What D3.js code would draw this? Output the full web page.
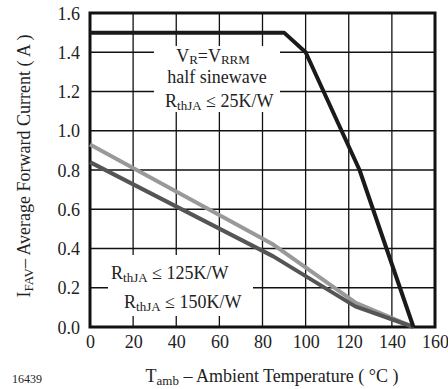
<!DOCTYPE html>
<html>
<head>
<meta charset="utf-8">
<script src="https://cdn.jsdelivr.net/npm/d3@7.9.0/dist/d3.min.js"></script>
<style>
  body { margin: 0; background: #fff; }
  svg text { font-family: "Liberation Serif", "DejaVu Serif", "Times New Roman", Times, serif; fill: #222; }
</style>
</head>
<body>
<svg id="chart" width="448" height="389"></svg>
<script>
// curves
const temp25 = [0, 90, 100, 125, 150];
const amps25 = [1.5, 1.5, 1.4, 0.8, 0];
const temp125 = [0, 85, 123, 150];
const amps125 = [0.93, 0.42, 0.125, 0];
const temp150 = [0, 85, 123, 150];
const amps150 = [0.84, 0.36, 0.105, 0];

const xTicks = [0, 20, 40, 60, 80, 100, 120, 140, 160];
const yTicks = [0.0, 0.2, 0.4, 0.6, 0.8, 1.0, 1.2, 1.4, 1.6];

const svg = d3.select("#chart");
const plotL = 90, plotR = 435, plotT = 13, plotB = 327;
const fs = 18, subFs = 13;

const x = d3.scaleLinear().domain([0, 160]).range([plotL, plotR]);
const y = d3.scaleLinear().domain([0, 1.6]).range([plotB, plotT]);

// grid
const grid = svg.append("g").attr("stroke", "#111").attr("stroke-width", 1.3);
grid.selectAll(".vx").data(xTicks.slice(1, -1)).enter().append("line")
  .attr("x1", d => x(d)).attr("x2", d => x(d))
  .attr("y1", plotT).attr("y2", plotB);
grid.selectAll(".hy").data(yTicks.slice(1, -1)).enter().append("line")
  .attr("x1", plotL).attr("x2", plotR)
  .attr("y1", d => y(d)).attr("y2", d => y(d));

// white label boxes that cut the grid
const boxes = svg.append("g");
boxes.append("rect").attr("x", 154).attr("y", 46).attr("width", 126).attr("height", 66).attr("fill", "#fff");
boxes.append("rect").attr("x", 108).attr("y", 255).attr("width", 145).attr("height", 61).attr("fill", "#fff");

// frame
svg.append("rect").attr("x", plotL).attr("y", plotT)
  .attr("width", plotR - plotL).attr("height", plotB - plotT)
  .attr("fill", "none").attr("stroke", "#111").attr("stroke-width", 3);

const line = d3.line().x(d => x(d[0])).y(d => y(d[1]));
function draw(ts, vs, color) {
  svg.append("path")
    .datum(d3.zip(ts, vs))
    .attr("d", line)
    .attr("fill", "none")
    .attr("stroke", color)
    .attr("stroke-width", 4)
    .attr("stroke-linejoin", "round");
}
draw(temp125, amps125, "#999");
draw(temp150, amps150, "#555");
draw(temp25, amps25, "#1a1a1a");

// axis tick labels
const xAxis = d3.axisBottom(x).tickValues(xTicks).tickSize(0).tickPadding(8);
const gx = svg.append("g").attr("transform", `translate(0,${plotB})`).call(xAxis);
gx.select(".domain").remove();
gx.attr("font-family", null).attr("font-size", null);
gx.selectAll("text").attr("font-size", fs).attr("fill", "#222");

const yAxis = d3.axisLeft(y).tickValues(yTicks).tickFormat(d3.format(".1f")).tickSize(0).tickPadding(10);
const gy = svg.append("g").attr("transform", `translate(${plotL},0)`).call(yAxis);
gy.select(".domain").remove();
gy.attr("font-family", null).attr("font-size", null);
gy.selectAll("text").attr("font-size", fs).attr("fill", "#222").attr("dy", "0.34em");

// axis titles
const xt = svg.append("text").attr("x", 272).attr("y", 382).attr("text-anchor", "middle").attr("font-size", fs);
xt.append("tspan").text("T");
xt.append("tspan").attr("font-size", subFs).attr("dy", 3).text("amb");
xt.append("tspan").attr("dy", -3).text(" – Ambient Temperature ( °C )");

const yt = svg.append("text").attr("transform", "translate(30,166) rotate(-90)")
  .attr("text-anchor", "middle").attr("font-size", fs);
yt.append("tspan").text("I");
yt.append("tspan").attr("font-size", subFs).attr("dy", 3).text("FAV");
yt.append("tspan").attr("dy", -3).text("– Average Forward Current ( A )");

svg.append("text").attr("x", 12).attr("y", 383).attr("font-size", 12).text("16439");

// curve labels
const l1 = svg.append("text").attr("x", 213).attr("y", 62).attr("text-anchor", "middle").attr("font-size", fs);
l1.append("tspan").text("V");
l1.append("tspan").attr("font-size", subFs).attr("dy", 2).text("R");
l1.append("tspan").attr("dy", -2).text("=V");
l1.append("tspan").attr("font-size", subFs).attr("dy", 2).text("RRM");
svg.append("text").attr("x", 217).attr("y", 83).attr("text-anchor", "middle").attr("font-size", fs).text("half sinewave");

function rLabel(px, py, rest) {
  const t = svg.append("text").attr("x", px).attr("y", py).attr("font-size", fs);
  t.append("tspan").text("R");
  t.append("tspan").attr("font-size", subFs).attr("dy", 3).text("thJA");
  t.append("tspan").attr("dy", -3).text(" ≤ " + rest);
}
rLabel(165, 107, "25K/W");
rLabel(111, 279, "125K/W");
rLabel(124, 308, "150K/W");
</script>
</body>
</html>
